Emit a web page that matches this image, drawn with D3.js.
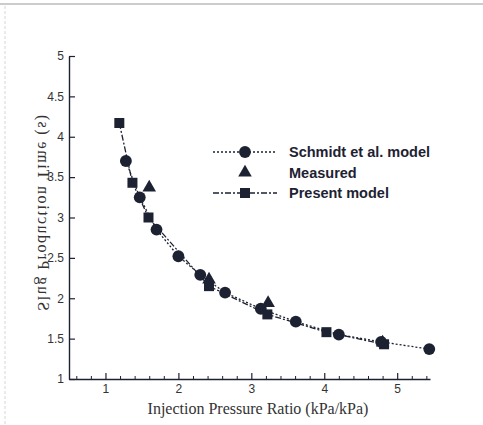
<!DOCTYPE html>
<html>
<head>
<meta charset="utf-8">
<script src="https://cdn.jsdelivr.net/npm/d3@7"></script>
<style>
  body { margin: 0; background: #fff; }
  svg { display: block; }
</style>
</head>
<body>
<svg id="chart"></svg>
<script>
// values
const schmidtX = [1.28, 1.47, 1.70, 2.00, 2.30, 2.64, 3.13, 3.61, 4.20, 4.78, 5.44];
const schmidtY = [3.70, 3.25, 2.85, 2.52, 2.29, 2.07, 1.87, 1.71, 1.55, 1.46, 1.37];
const measuredX = [1.60, 2.42, 3.23, 4.80];
const measuredY = [3.37, 2.23, 1.94, 1.45];
const presentX = [1.19, 1.37, 1.59, 2.42, 3.22, 4.03, 4.82];
const presentY = [4.17, 3.43, 3.00, 2.15, 1.80, 1.58, 1.43];
const xTicks = [1, 2, 3, 4, 5];
const yTicks = [1, 1.5, 2, 2.5, 3, 3.5, 4, 4.5, 5];
const legendLabels = ['Schmidt et al. model', 'Measured', 'Present model'];

const width = 483, height = 425;
const ink = '#1d2233';

const svg = d3.select('#chart')
    .attr('width', width)
    .attr('height', height);

// scanner frame bits
svg.append('line')
    .attr('x1', 0).attr('x2', width).attr('y1', 4).attr('y2', 4)
    .style('stroke', '#9a9a9a').style('stroke-width', 1.2);
svg.append('line')
    .attr('x1', 5).attr('x2', 5).attr('y1', 6).attr('y2', height)
    .style('stroke', '#d6d6d6').style('stroke-width', 1)
    .style('stroke-dasharray', '3,2');

const x = d3.scaleLinear().domain([0.5, 5.45]).range([69, 430]);
const y = d3.scaleLinear().domain([1, 5]).range([379, 56]);

const zip = (xs, ys) => xs.map((v, i) => ({x: v, y: ys[i]}));
const schmidt = zip(schmidtX, schmidtY);
const measured = zip(measuredX, measuredY);
const present = zip(presentX, presentY);

// axes, ticks point inward
const minorX = d3.range(0.6, 5.45, 0.2).filter((v) => Math.abs(v - Math.round(v)) > 0.05);
svg.append('g')
    .attr('transform', `translate(0,${y.range()[0]})`)
    .call(d3.axisBottom(x).tickValues(minorX).tickSizeInner(-3).tickSizeOuter(0).tickFormat(''))
    .call((g) => g.select('.domain').remove())
    .selectAll('line').style('stroke', ink);

const xAxis = svg.append('g')
    .attr('transform', `translate(0,${y.range()[0]})`)
    .call(d3.axisBottom(x).tickValues(xTicks).tickSizeInner(-6).tickSizeOuter(0).tickPadding(5).tickFormat(d3.format('~g')));

const yAxis = svg.append('g')
    .attr('transform', `translate(${x.range()[0]},0)`)
    .call(d3.axisLeft(y).tickValues(yTicks).tickSizeInner(-6).tickSizeOuter(0).tickPadding(5).tickFormat(d3.format('~g')));

[xAxis, yAxis].forEach((g) => {
    g.select('.domain').style('stroke', ink).style('stroke-width', 1.4);
    g.selectAll('.tick line').style('stroke', ink).style('stroke-width', 1.2);
    g.selectAll('.tick text')
        .style('font-family', 'Liberation Sans, Arial, sans-serif')
        .style('font-size', '12px')
        .style('fill', '#333');
});

svg.append('text')
    .attr('x', 258).attr('y', 414)
    .attr('text-anchor', 'middle')
    .style('font-family', 'Liberation Serif, Times New Roman, serif')
    .style('font-size', '16px')
    .style('fill', '#333')
    .text('Injection Pressure Ratio (kPa/kPa)');

// y title comes out mirrored in the scan
svg.append('text')
    .attr('transform', 'translate(38,212) scale(-1,1) rotate(-90)')
    .attr('text-anchor', 'middle')
    .style('font-family', 'Liberation Serif, Times New Roman, serif')
    .style('font-size', '16px')
    .style('letter-spacing', '1.5px')
    .style('fill', '#333')
    .text('Slug Production Time (s)');

// lines
const line = d3.line().x((d) => x(d.x)).y((d) => y(d.y));
svg.append('path')
    .datum(schmidt)
    .attr('d', line)
    .style('fill', 'none').style('stroke', ink)
    .style('stroke-width', 1.3).style('stroke-dasharray', '2,2');
svg.append('path')
    .datum(present)
    .attr('d', line)
    .style('fill', 'none').style('stroke', ink)
    .style('stroke-width', 1.3).style('stroke-dasharray', '6,2,2,2');

// markers
const circleSym = d3.symbol().type(d3.symbolCircle).size(110);
const triSym = d3.symbol().type(d3.symbolTriangle).size(80);
const squareSym = d3.symbol().type(d3.symbolSquare).size(100);

const drawMarks = (data, sym) => svg.append('g')
    .selectAll('path').data(data).enter()
    .append('path')
    .attr('d', sym)
    .attr('transform', (d) => `translate(${x(d.x)},${y(d.y)})`)
    .style('fill', ink);

drawMarks(measured, triSym);
drawMarks(present, squareSym);
drawMarks(schmidt, circleSym);

// legend
const legend = svg.append('g').attr('transform', 'translate(213,152)');
const rowGap = 20.5;
const legendDash = ['2,2', null, '6,2,2,2'];
const legendSym = [circleSym, triSym, squareSym];
legendLabels.forEach((label, i) => {
    const row = legend.append('g').attr('transform', `translate(0,${i * rowGap})`);
    if (legendDash[i]) {
        row.append('line')
            .attr('x1', 0).attr('x2', 64)
            .style('stroke', ink).style('stroke-width', 1.3)
            .style('stroke-dasharray', legendDash[i]);
    }
    row.append('path')
        .attr('d', legendSym[i])
        .attr('transform', 'translate(32,0)')
        .style('fill', ink);
    row.append('text')
        .attr('x', 76).attr('y', 5)
        .style('font-family', 'Liberation Sans, Arial, sans-serif')
        .style('font-size', '14.5px')
        .style('font-weight', 'bold')
        .style('fill', ink)
        .text(label);
});
</script>
</body>
</html>
